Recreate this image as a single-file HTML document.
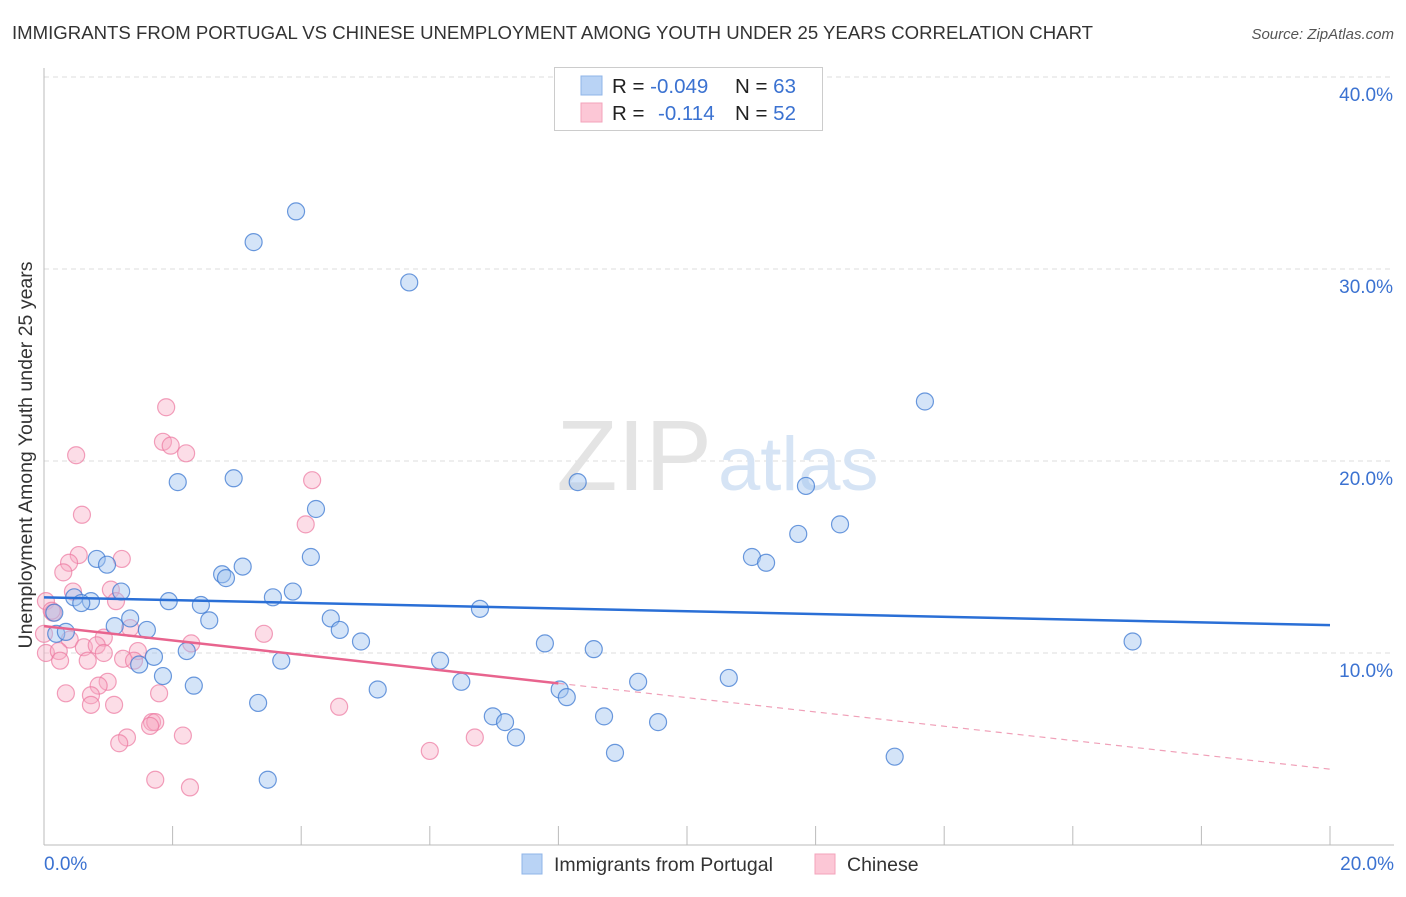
<!DOCTYPE html>
<html><head><meta charset="utf-8"><style>
body{margin:0;background:#fff;font-family:"Liberation Sans",sans-serif}
svg text{font-family:"Liberation Sans",sans-serif}
</style></head><body>
<svg id="chart" width="1406" height="892" xmlns="http://www.w3.org/2000/svg">
<text x="12" y="39" font-size="18.6" fill="#333">IMMIGRANTS FROM PORTUGAL VS CHINESE UNEMPLOYMENT AMONG YOUTH UNDER 25 YEARS CORRELATION CHART</text>
<text x="1394" y="39" font-size="15" fill="#555" font-style="italic" text-anchor="end">Source: ZipAtlas.com</text>
<g id="grid"></g>
<text x="712" y="490" font-size="100" fill="#e4e4e4" text-anchor="end" font-family="Liberation Serif">ZIP</text>
<text x="718" y="490" font-size="76" fill="#d6e4f5">atlas</text>
<g id="marks"></g>
<text x="32" y="455" font-size="19.5" fill="#333" text-anchor="middle" transform="rotate(-90 32 455)">Unemployment Among Youth under 25 years</text>
<g>
<rect x="554.5" y="67.5" width="268" height="63" fill="#fff" stroke="#ccc"/>
<rect x="581" y="76" width="21" height="19" fill="#b9d3f5" stroke="#8fb4e8"/>
<rect x="581" y="103" width="21" height="19" fill="#fcc7d6" stroke="#f3a3bb"/>
<text x="612" y="93" font-size="20.5" fill="#222">R = <tspan fill="#3b72d1">-0.049</tspan><tspan x="735">N = </tspan><tspan fill="#3b72d1">63</tspan></text>
<text x="612" y="120" font-size="20.5" fill="#222">R = <tspan x="658" fill="#3b72d1">-0.114</tspan><tspan x="735">N = </tspan><tspan fill="#3b72d1">52</tspan></text>
</g>
<g>
<rect x="522" y="854" width="20" height="20" fill="#b9d3f5" stroke="#8fb4e8"/>
<text x="554" y="871" font-size="19.5" fill="#333">Immigrants from Portugal</text>
<rect x="815" y="854" width="20" height="20" fill="#fcc7d6" stroke="#f3a3bb"/>
<text x="847" y="871" font-size="19.5" fill="#333">Chinese</text>
</g>
</svg>
<script>
const yTicks=[10,20,30,40];
const xTickLabels=["0.0%","20.0%"];
const blueX=[3.92,3.26,5.68,13.70,2.08,2.95,8.30,11.85,4.23,12.38,11.73,0.82,0.98,4.15,11.01,11.23,3.09,2.77,2.83,1.20,3.87,3.56,0.47,0.73,0.58,1.94,2.44,6.78,1.34,2.57,4.46,1.10,1.60,4.60,0.19,0.34,0.16,7.79,4.93,8.55,16.93,2.22,1.71,6.16,3.69,1.48,1.85,6.49,5.19,8.02,9.24,10.65,2.33,8.13,3.33,6.98,8.71,9.55,7.17,7.34,8.88,13.23,3.48];
const blueY=[33.0,31.4,29.3,23.1,18.9,19.1,18.9,18.7,17.5,16.7,16.2,14.9,14.6,15.0,15.0,14.7,14.5,14.1,13.9,13.2,13.2,12.9,12.9,12.7,12.6,12.7,12.5,12.3,11.8,11.7,11.8,11.4,11.2,11.2,11.0,11.1,12.1,10.5,10.6,10.2,10.6,10.1,9.8,9.6,9.6,9.4,8.8,8.5,8.1,8.1,8.5,8.7,8.3,7.7,7.4,6.7,6.7,6.4,6.4,5.6,4.8,4.6,3.4];
const pinkX=[1.90,1.85,1.97,2.21,0.50,4.17,0.59,4.07,0.54,1.21,0.39,0.30,0.45,1.04,1.12,0.03,0.14,1.34,3.42,0.40,0.93,2.29,0.62,0.82,0.03,0.23,0.93,1.46,1.23,1.40,0.25,0.68,0.99,0.85,0.34,0.73,1.79,1.09,0.73,4.59,1.68,1.73,1.65,2.16,1.29,1.17,6.70,6.00,1.73,2.27,0.0,0.12];
const pinkY=[22.8,21.0,20.8,20.4,20.3,19.0,17.2,16.7,15.1,14.9,14.7,14.2,13.2,13.3,12.7,12.7,12.1,11.3,11.0,10.7,10.8,10.5,10.3,10.4,10.0,10.1,10.0,10.1,9.7,9.6,9.6,9.6,8.5,8.3,7.9,7.8,7.9,7.3,7.3,7.2,6.4,6.4,6.2,5.7,5.6,5.3,5.6,4.9,3.4,3.0,11.0,12.2];
const blueTrend=[12.9,11.45];
const pinkTrend=[11.4,3.95];
const X0=44,X1=1330,Y0=845,PX=19.2;
const xs=v=>X0+(X1-X0)*v/20, ys=v=>Y0-PX*v;
const NS="http://www.w3.org/2000/svg";
const grid=document.getElementById('grid'),marks=document.getElementById('marks');
function mk(p,tag,a){const e=document.createElementNS(NS,tag);for(const k in a)e.setAttribute(k,a[k]);p.appendChild(e);return e;}
yTicks.forEach(t=>{
 const l=mk(grid,'line',{x1:X0,x2:1394,y1:ys(t),y2:ys(t),stroke:'#ddd','stroke-dasharray':'5,4'});
 
 
 const tx=mk(grid,'text',{x:1393,y:ys(t)+24,'font-size':19,fill:'#3b72d1','text-anchor':'end'});tx.textContent=t.toFixed(1)+'%';
 
 
});
mk(grid,'line',{x1:X0,x2:X0,y1:68,y2:Y0,stroke:'#bbb'});
mk(grid,'line',{x1:X0,x2:1394,y1:Y0,y2:Y0,stroke:'#bbb'});
for(let i=0;i<=10;i++){const t=mk(grid,'line',{x1:xs(i*2),x2:xs(i*2),y1:826,y2:Y0,stroke:'#bbb'});
 
 }
const xl0=mk(grid,'text',{x:44,y:870,'font-size':19,fill:'#3b72d1'});xl0.textContent=xTickLabels[0];


const xl1=mk(grid,'text',{x:1394,y:870,'font-size':19,fill:'#3b72d1','text-anchor':'end'});xl1.textContent=xTickLabels[1];


pinkX.forEach((x,i)=>{const c=mk(marks,'circle',{cx:xs(x),cy:ys(pinkY[i]),r:8.5,fill:'rgba(248,170,195,0.4)',stroke:'rgba(236,120,160,0.7)','stroke-width':1.2});
 
 });
blueX.forEach((x,i)=>{const c=mk(marks,'circle',{cx:xs(x),cy:ys(blueY[i]),r:8.5,fill:'rgba(160,195,240,0.45)',stroke:'rgba(60,120,210,0.75)','stroke-width':1.2});
 
 });
const bl=mk(marks,'line',{x1:xs(0),y1:ys(blueTrend[0]),x2:xs(20),y2:ys(blueTrend[1]),stroke:'#2a6fd6','stroke-width':2.5});


const px=8.0,py=pinkTrend[0]+(pinkTrend[1]-pinkTrend[0])*px/20;
const pl=mk(marks,'line',{x1:xs(0),y1:ys(pinkTrend[0]),x2:xs(px),y2:ys(py),stroke:'#e8648e','stroke-width':2.5});


const pd=mk(marks,'line',{x1:xs(px),y1:ys(py),x2:xs(20),y2:ys(pinkTrend[1]),stroke:'#f0a0b8','stroke-width':1.2,'stroke-dasharray':'6,5'});


</script>
</body></html>
